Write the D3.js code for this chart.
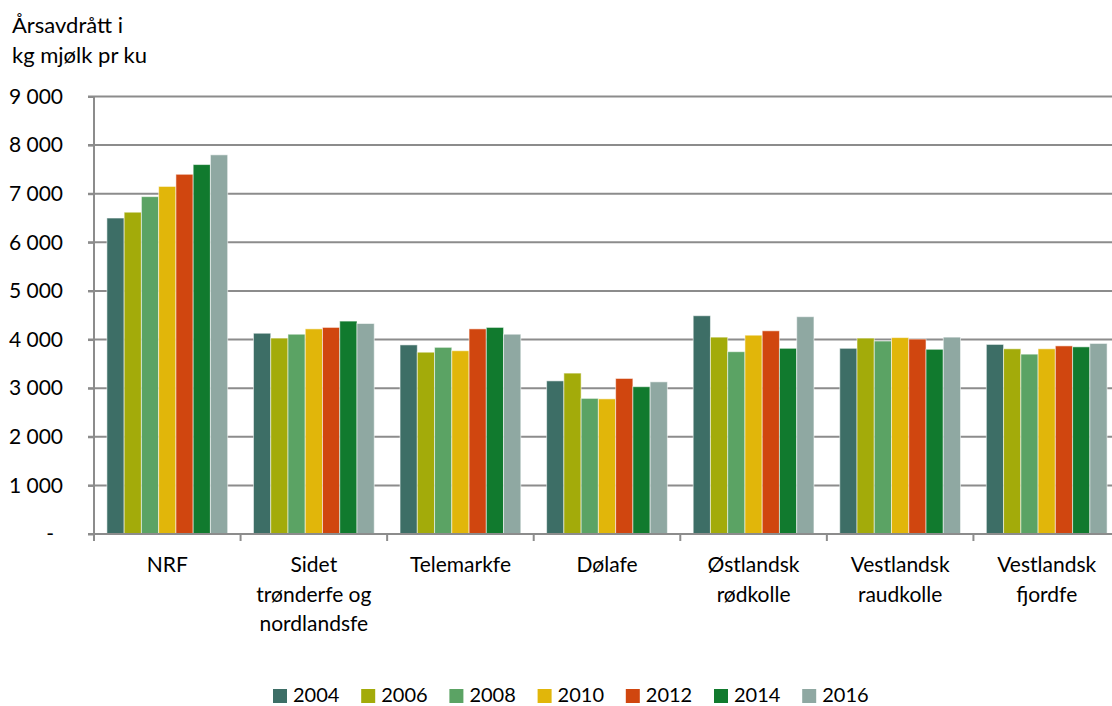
<!DOCTYPE html>
<html>
<head>
<meta charset="utf-8">
<script src="https://cdn.jsdelivr.net/npm/d3@7"></script>
<style>
  body { margin: 0; background: #fff; }
  text { font-family: Lato, "Liberation Sans", sans-serif; fill: #000; }
</style>
</head>
<body>
<script>
// data
var categories = [["NRF"], ["Sidet", "trønderfe og", "nordlandsfe"], ["Telemarkfe"], ["Dølafe"],
                  ["Østlandsk", "rødkolle"], ["Vestlandsk", "raudkolle"], ["Vestlandsk", "fjordfe"]];
var years = ["2004", "2006", "2008", "2010", "2012", "2014", "2016"];
var colors = ["#3d6e66", "#a3ab0a", "#5ba364", "#e1b60a", "#d0460f", "#117a2e", "#8fa8a2"];
var v2004 = [6500, 4130, 3890, 3150, 4490, 3820, 3900];
var v2006 = [6620, 4030, 3740, 3310, 4050, 4030, 3810];
var v2008 = [6940, 4110, 3840, 2790, 3750, 3970, 3700];
var v2010 = [7150, 4220, 3770, 2780, 4090, 4040, 3810];
var v2012 = [7400, 4250, 4220, 3200, 4180, 4010, 3870];
var v2014 = [7600, 4380, 4250, 3030, 3820, 3800, 3850];
var v2016 = [7800, 4330, 4110, 3130, 4470, 4050, 3920];
var yTicks = [0, 1000, 2000, 3000, 4000, 5000, 6000, 7000, 8000, 9000];

var series = [v2004, v2006, v2008, v2010, v2012, v2014, v2016];

var width = 1112, height = 706;
var svg = d3.select('body').append('svg').attr('width', width).attr('height', height);

var x = d3.scaleBand().domain(d3.range(categories.length)).range([94, 1120]).padding(0);
var xi = d3.scaleBand().domain(d3.range(years.length))
    .range([x.bandwidth() * 0.088, x.bandwidth() * 0.912]).padding(0);
var y = d3.scaleLinear().domain([0, 9000]).range([534, 96.5]);

// gridlines
svg.append('g').selectAll('line').data(yTicks.slice(1)).enter().append('line')
    .attr('x1', 88).attr('x2', 1112)
    .attr('y1', function (d) { return y(d); }).attr('y2', function (d) { return y(d); })
    .attr('stroke', '#8c8c8c').attr('stroke-width', 2);

// bars
var groups = svg.append('g').selectAll('g').data(series).enter().append('g')
    .attr('fill', function (d, i) { return colors[i]; });
groups.each(function (vals, si) {
    d3.select(this).selectAll('rect').data(vals).enter().append('rect')
        .attr('x', function (d, ci) { return x(ci) + xi(si); })
        .attr('width', xi.bandwidth())
        .attr('y', function (d) { return y(d); })
        .attr('height', function (d) { return y(0) - y(d); })
        .attr('stroke', '#fff').attr('stroke-opacity', 0.55).attr('stroke-width', 1);
});

// y axis
var yAxis = d3.axisLeft(y).tickValues(yTicks).tickSize(6).tickPadding(25)
    .tickFormat(function (d) { return d === 0 ? '-' : d3.format(',')(d).replace(',', ' '); });
var ga = svg.append('g').attr('transform', 'translate(94,0)').call(yAxis);
ga.selectAll('line, path').attr('stroke', '#8c8c8c').attr('stroke-width', 2);
ga.select('.domain').attr('d', 'M0,' + y(9000) + 'V' + y(0));
ga.selectAll('text').attr('font-size', 21).attr('font-family', 'Lato').attr('fill', '#000');
ga.selectAll('.tick').filter(function (d) { return d === 0; }).select('text').attr('dx', -9);

// x axis
var xAxis = d3.axisBottom(x).tickSize(0).tickFormat('');
var gx = svg.append('g').attr('transform', 'translate(0,534)').call(xAxis);
gx.select('.domain').attr('stroke', '#8c8c8c').attr('stroke-width', 2).attr('d', 'M88,0H1112');
gx.append('g').selectAll('line').data(d3.range(categories.length + 1)).enter().append('line')
    .attr('x1', function (d) { return 94 + d * x.step(); })
    .attr('x2', function (d) { return 94 + d * x.step(); })
    .attr('y1', 0).attr('y2', 7).attr('stroke', '#8c8c8c').attr('stroke-width', 2);

// category labels
var lab = svg.append('g').selectAll('text').data(categories).enter().append('text')
    .attr('text-anchor', 'middle').attr('font-size', 21)
    .attr('x', function (d, i) { return x(i) + x.bandwidth() / 2; })
    .attr('y', 572);
lab.selectAll('tspan').data(function (d) { return d; }).enter().append('tspan')
    .attr('x', function () { return d3.select(this.parentNode).attr('x'); })
    .attr('dy', function (d, i) { return i === 0 ? 0 : 29.5; })
    .text(function (d) { return d; });

// title
svg.append('text').attr('x', 12).attr('y', 33).attr('font-size', 22).text('Årsavdrått i');
svg.append('text').attr('x', 12).attr('y', 63).attr('font-size', 22).text('kg mjølk pr ku');

// legend
var leg = svg.append('g').selectAll('g').data(years).enter().append('g')
    .attr('transform', function (d, i) { return 'translate(' + (273 + i * 88.2) + ',689)'; });
leg.append('rect').attr('width', 14).attr('height', 14)
    .attr('fill', function (d, i) { return colors[i]; });
leg.append('text').attr('x', 20).attr('y', 13).attr('font-size', 20).text(function (d) { return d; });
</script>
</body>
</html>
